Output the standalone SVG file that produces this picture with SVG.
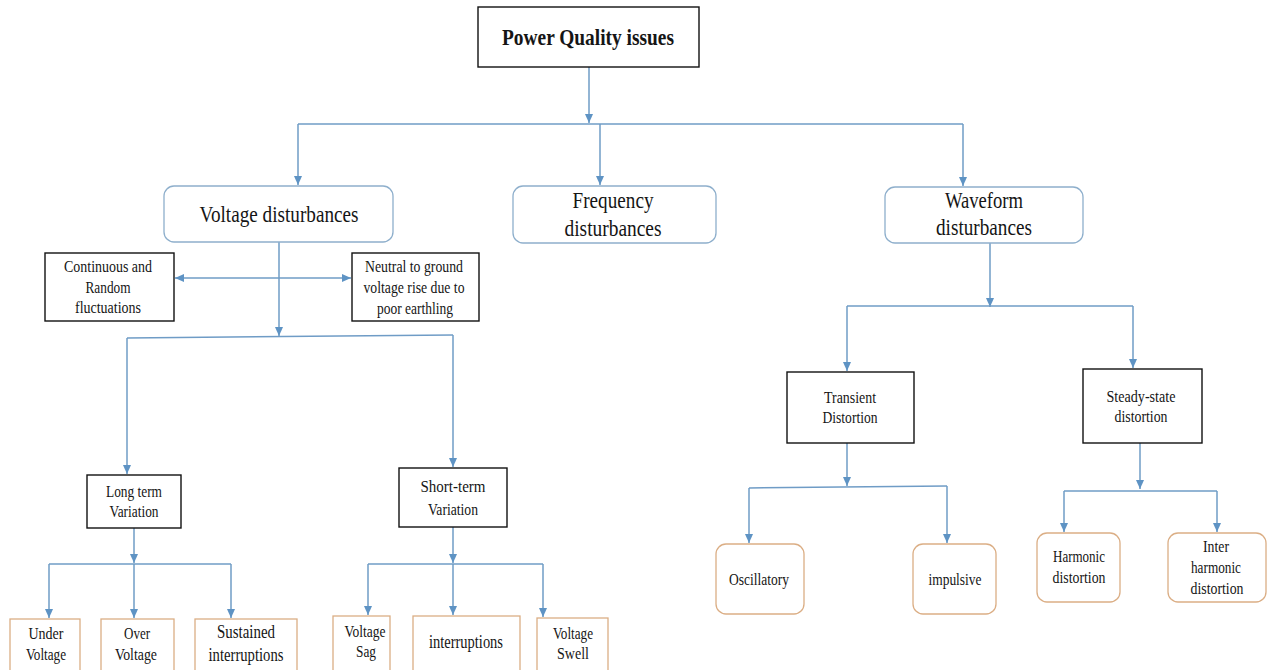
<svg xmlns="http://www.w3.org/2000/svg" width="1277" height="670" viewBox="0 0 1277 670">
<defs>
<marker id="ah" markerWidth="9" markerHeight="9" refX="9" refY="4" orient="auto" markerUnits="userSpaceOnUse"><path d="M0,0 L9,4 L0,8 z" fill="#5e93c4"/></marker>
<marker id="ahs" markerWidth="9" markerHeight="9" refX="0" refY="4" orient="auto" markerUnits="userSpaceOnUse"><path d="M9,0 L0,4 L9,8 z" fill="#5e93c4"/></marker>
<style>
text{font-family:"Liberation Serif","Times New Roman",serif;fill:#151515;text-anchor:middle}
.b{fill:#fff;stroke:#111;stroke-width:1.4}
.u{fill:#fff;stroke:#8eafcc;stroke-width:1.3}
.o{fill:#fff;stroke:#dbae85;stroke-width:1.3}
.c{fill:none;stroke:#6f9cc6;stroke-width:1.5}
.a{marker-end:url(#ah)}
.t23{font-size:23px}
.t16{font-size:16px}
.t17{font-size:17px}
</style>
</defs>
<rect width="1277" height="670" fill="#fff"/>
<g id="connectors">
<path class="c a" d="M589,67 V123"/>
<path class="c" d="M298,124 H963"/>
<path class="c a" d="M298,124 V185"/>
<path class="c a" d="M600,124 V185"/>
<path class="c a" d="M963,124 V186"/>
<path class="c a" d="M279,242 V336"/>
<path class="c" d="M175,278 H351" marker-start="url(#ahs)" marker-end="url(#ah)"/>
<path class="c" d="M127,338 L453,335"/>
<path class="c a" d="M127,338 V474"/>
<path class="c a" d="M453,335 V467"/>
<path class="c a" d="M134,528 V563"/>
<path class="c" d="M49,564 H231"/>
<path class="c a" d="M49,564 V618"/>
<path class="c a" d="M134,564 V618"/>
<path class="c a" d="M231,564 V618"/>
<path class="c a" d="M453,527 V563"/>
<path class="c" d="M368,564 H543"/>
<path class="c a" d="M368,564 V615"/>
<path class="c a" d="M453,564 V615"/>
<path class="c a" d="M543,564 V617"/>
<path class="c a" d="M990,243 V307"/>
<path class="c" d="M847,306 H1133"/>
<path class="c a" d="M847,306 V371"/>
<path class="c a" d="M1133,306 V368"/>
<path class="c a" d="M847,443 V486"/>
<path class="c" d="M749,488 L947,486"/>
<path class="c a" d="M749,488 V543"/>
<path class="c a" d="M947,486 V543"/>
<path class="c a" d="M1140,443 V489"/>
<path class="c" d="M1064,491 H1217"/>
<path class="c a" d="M1064,491 V532"/>
<path class="c a" d="M1217,491 V532"/>
</g>
<g id="power-quality"><rect class="b" x="478" y="7" width="221" height="60"/><text x="588" y="45" font-size="23" font-weight="bold" textLength="172" lengthAdjust="spacingAndGlyphs">Power Quality issues</text></g>
<g id="voltage"><rect class="u" x="164" y="186" width="229" height="56" rx="10"/><text class="t23" x="279" y="222" textLength="159" lengthAdjust="spacingAndGlyphs">Voltage disturbances</text></g>
<g id="frequency"><rect class="u" x="513" y="186" width="203" height="57" rx="10"/><text class="t23" x="613" y="208" textLength="81" lengthAdjust="spacingAndGlyphs">Frequency</text><text class="t23" x="613" y="236" textLength="97" lengthAdjust="spacingAndGlyphs">disturbances</text></g>
<g id="waveform"><rect class="u" x="885" y="187" width="198" height="56" rx="10"/><text class="t23" x="984" y="208" textLength="78" lengthAdjust="spacingAndGlyphs">Waveform</text><text class="t23" x="984" y="235" textLength="96" lengthAdjust="spacingAndGlyphs">disturbances</text></g>
<g id="continuous"><rect class="b" x="45" y="253" width="129" height="68"/><text class="t16" x="108" y="272" textLength="88" lengthAdjust="spacingAndGlyphs">Continuous and</text><text class="t16" x="108" y="293" textLength="45" lengthAdjust="spacingAndGlyphs">Random</text><text class="t16" x="108" y="313" textLength="66" lengthAdjust="spacingAndGlyphs">fluctuations</text></g>
<g id="neutral"><rect class="b" x="352" y="253" width="127" height="68"/><text class="t16" x="414" y="272" textLength="98" lengthAdjust="spacingAndGlyphs">Neutral to ground</text><text class="t16" x="414" y="293" textLength="101" lengthAdjust="spacingAndGlyphs">voltage rise due to</text><text class="t16" x="415" y="314" textLength="76" lengthAdjust="spacingAndGlyphs">poor earthling</text></g>
<g id="long-term"><rect class="b" x="87" y="475" width="94" height="53"/><text class="t16" x="134" y="497" textLength="56" lengthAdjust="spacingAndGlyphs">Long term</text><text class="t16" x="134" y="517" textLength="49" lengthAdjust="spacingAndGlyphs">Variation</text></g>
<g id="short-term"><rect class="b" x="399" y="468" width="108" height="59"/><text class="t16" x="453" y="492" textLength="65" lengthAdjust="spacingAndGlyphs">Short-term</text><text class="t16" x="453" y="515" textLength="50" lengthAdjust="spacingAndGlyphs">Variation</text></g>
<g id="under-voltage"><rect class="o" x="10" y="619" width="70" height="52"/><text class="t16" x="46" y="639" textLength="35" lengthAdjust="spacingAndGlyphs">Under</text><text class="t16" x="46" y="660" textLength="40" lengthAdjust="spacingAndGlyphs">Voltage</text></g>
<g id="over-voltage"><rect class="o" x="101" y="619" width="73" height="52"/><text class="t16" x="137" y="639" textLength="26" lengthAdjust="spacingAndGlyphs">Over</text><text class="t16" x="136" y="660" textLength="42" lengthAdjust="spacingAndGlyphs">Voltage</text></g>
<g id="sustained"><rect class="o" x="195" y="619" width="102" height="52"/><text x="246" y="638" font-size="18" textLength="58" lengthAdjust="spacingAndGlyphs">Sustained</text><text x="246" y="661" font-size="18" textLength="75" lengthAdjust="spacingAndGlyphs">interruptions</text></g>
<g id="voltage-sag"><rect class="o" x="333" y="616" width="57" height="55"/><text class="t16" x="365" y="637" textLength="41" lengthAdjust="spacingAndGlyphs">Voltage</text><text class="t16" x="366" y="657" textLength="20" lengthAdjust="spacingAndGlyphs">Sag</text></g>
<g id="interruptions"><rect class="o" x="413" y="616" width="107" height="55"/><text x="466" y="648" font-size="18" textLength="74" lengthAdjust="spacingAndGlyphs">interruptions</text></g>
<g id="voltage-swell"><rect class="o" x="537" y="618" width="71" height="53"/><text class="t16" x="573" y="639" textLength="40" lengthAdjust="spacingAndGlyphs">Voltage</text><text class="t16" x="573" y="659" textLength="32" lengthAdjust="spacingAndGlyphs">Swell</text></g>
<g id="transient"><rect class="b" x="787" y="372" width="127" height="71"/><text class="t16" x="850" y="403" textLength="52" lengthAdjust="spacingAndGlyphs">Transient</text><text class="t16" x="850" y="423" textLength="55" lengthAdjust="spacingAndGlyphs">Distortion</text></g>
<g id="steady-state"><rect class="b" x="1083" y="369" width="119" height="74"/><text class="t16" x="1141" y="402" textLength="69" lengthAdjust="spacingAndGlyphs">Steady-state</text><text class="t16" x="1141" y="422" textLength="53" lengthAdjust="spacingAndGlyphs">distortion</text></g>
<g id="oscillatory"><rect class="o" x="716" y="544" width="88" height="70" rx="10"/><text class="t17" x="759" y="585" textLength="60" lengthAdjust="spacingAndGlyphs">Oscillatory</text></g>
<g id="impulsive"><rect class="o" x="913" y="544" width="83" height="70" rx="10"/><text class="t17" x="955" y="585" textLength="53" lengthAdjust="spacingAndGlyphs">impulsive</text></g>
<g id="harmonic"><rect class="o" x="1037" y="533" width="83" height="69" rx="10"/><text class="t16" x="1079" y="562" textLength="52" lengthAdjust="spacingAndGlyphs">Harmonic</text><text class="t16" x="1079" y="583" textLength="53" lengthAdjust="spacingAndGlyphs">distortion</text></g>
<g id="inter-harmonic"><rect class="o" x="1168" y="533" width="98" height="69" rx="10"/><text class="t16" x="1216" y="552" textLength="26" lengthAdjust="spacingAndGlyphs">Inter</text><text class="t16" x="1216" y="573" textLength="50" lengthAdjust="spacingAndGlyphs">harmonic</text><text class="t16" x="1217" y="594" textLength="53" lengthAdjust="spacingAndGlyphs">distortion</text></g>
</svg>
